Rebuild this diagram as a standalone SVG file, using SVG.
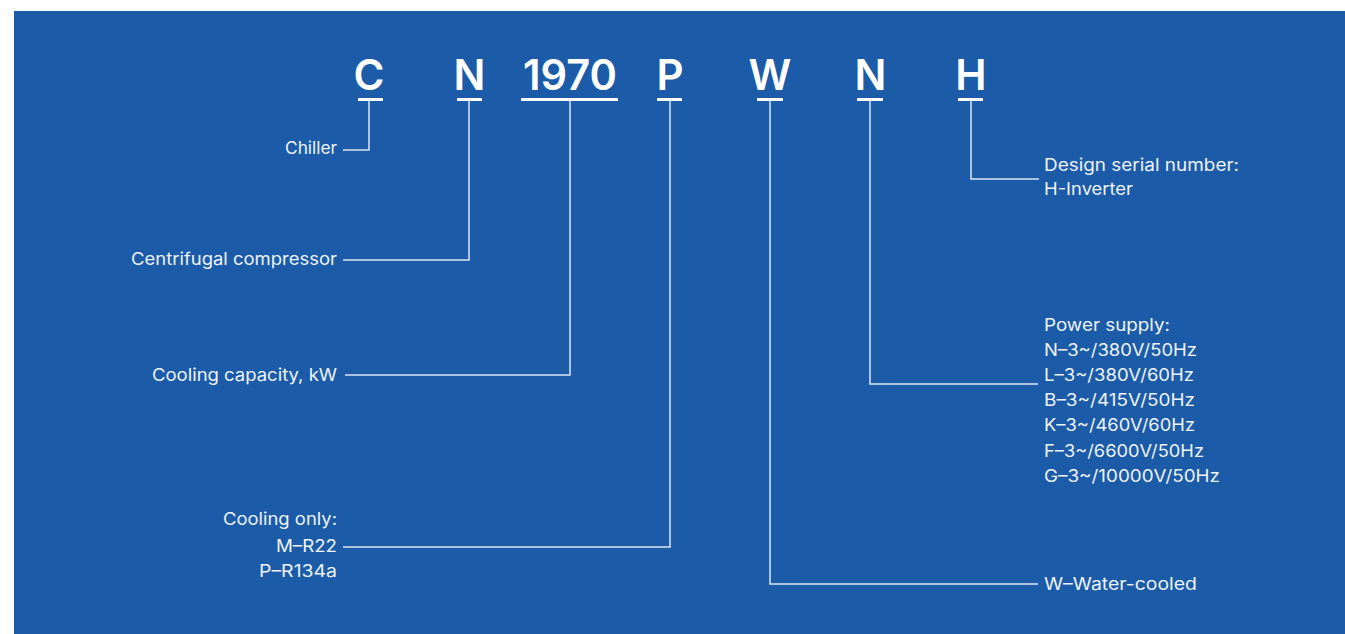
<svg xmlns="http://www.w3.org/2000/svg" width="1345" height="634" viewBox="0 0 1345 634">
<style>
.bg{fill:#1b5ba7}
.code{font-family:Inter,"Open Sans","Liberation Sans",sans-serif;font-weight:600;font-size:42px;fill:#ffffff;text-anchor:middle}
.ul{stroke:#ffffff;stroke-width:3}
.lbl{font-family:Inter,"Open Sans","Liberation Sans",sans-serif;font-size:17px;fill:#eef3fa}
.r{text-anchor:end}
.conn path{fill:none;stroke:#dde6f2;stroke-width:1.5}
</style>
<rect x="0" y="0" width="1345" height="634" fill="#ffffff"/>
<rect class="bg" x="14" y="11" width="1331" height="623"/>

<g id="code-C"><text class="code" x="369" y="90">C</text><line class="ul" x1="358" y1="99.5" x2="383" y2="99.5"/></g>
<g id="code-N1"><text class="code" x="469.5" y="90">N</text><line class="ul" x1="457" y1="99.5" x2="482" y2="99.5"/></g>
<g id="code-1970"><text class="code" x="570" y="90" textLength="94" lengthAdjust="spacingAndGlyphs">1970</text><line class="ul" x1="521" y1="99.5" x2="618" y2="99.5"/></g>
<g id="code-P"><text class="code" x="670" y="90">P</text><line class="ul" x1="657" y1="99.5" x2="682" y2="99.5"/></g>
<g id="code-W"><text class="code" x="770" y="90">W</text><line class="ul" x1="757" y1="99.5" x2="783" y2="99.5"/></g>
<g id="code-N2"><text class="code" x="870.5" y="90">N</text><line class="ul" x1="857" y1="99.5" x2="883" y2="99.5"/></g>
<g id="code-H"><text class="code" x="971" y="90">H</text><line class="ul" x1="958" y1="99.5" x2="983" y2="99.5"/></g>

<g class="conn" id="connectors">
<path d="M369,101 V150 H343"/>
<path d="M469,101 V260 H343"/>
<path d="M570,101 V375 H345"/>
<path d="M670,101 V547 H343"/>
<path d="M770,101 V584 H1038"/>
<path d="M870,101 V384 H1038"/>
<path d="M971,101 V179 H1039"/>
</g>

<g id="label-chiller"><text class="lbl r" x="337" y="154" textLength="52" lengthAdjust="spacingAndGlyphs">Chiller</text></g>
<g id="label-compressor"><text class="lbl r" x="337" y="265" textLength="206" lengthAdjust="spacingAndGlyphs">Centrifugal compressor</text></g>
<g id="label-capacity"><text class="lbl r" x="337" y="380.5" textLength="185" lengthAdjust="spacingAndGlyphs">Cooling capacity, kW</text></g>
<g id="label-refrigerant">
<text class="lbl r" x="337" y="525" textLength="114" lengthAdjust="spacingAndGlyphs">Cooling only:</text>
<text class="lbl r" x="337" y="552" textLength="61" lengthAdjust="spacingAndGlyphs">M–R22</text>
<text class="lbl r" x="337" y="577" textLength="78" lengthAdjust="spacingAndGlyphs">P–R134a</text>
</g>
<g id="label-design">
<text class="lbl" x="1044" y="170.5" textLength="195" lengthAdjust="spacingAndGlyphs">Design serial number:</text>
<text class="lbl" x="1044" y="195" textLength="89" lengthAdjust="spacingAndGlyphs">H-Inverter</text>
</g>
<g id="label-power">
<text class="lbl" x="1044" y="331" textLength="126" lengthAdjust="spacingAndGlyphs">Power supply:</text>
<text class="lbl" x="1044" y="356" textLength="153" lengthAdjust="spacingAndGlyphs">N–3~/380V/50Hz</text>
<text class="lbl" x="1044" y="381" textLength="150" lengthAdjust="spacingAndGlyphs">L–3~/380V/60Hz</text>
<text class="lbl" x="1044" y="406" textLength="151" lengthAdjust="spacingAndGlyphs">B–3~/415V/50Hz</text>
<text class="lbl" x="1044" y="431" textLength="151" lengthAdjust="spacingAndGlyphs">K–3~/460V/60Hz</text>
<text class="lbl" x="1044" y="456.5" textLength="160" lengthAdjust="spacingAndGlyphs">F–3~/6600V/50Hz</text>
<text class="lbl" x="1044" y="481.5" textLength="176" lengthAdjust="spacingAndGlyphs">G–3~/10000V/50Hz</text>
</g>
<g id="label-water"><text class="lbl" x="1044" y="590" textLength="153" lengthAdjust="spacingAndGlyphs">W–Water-cooled</text></g>
</svg>
